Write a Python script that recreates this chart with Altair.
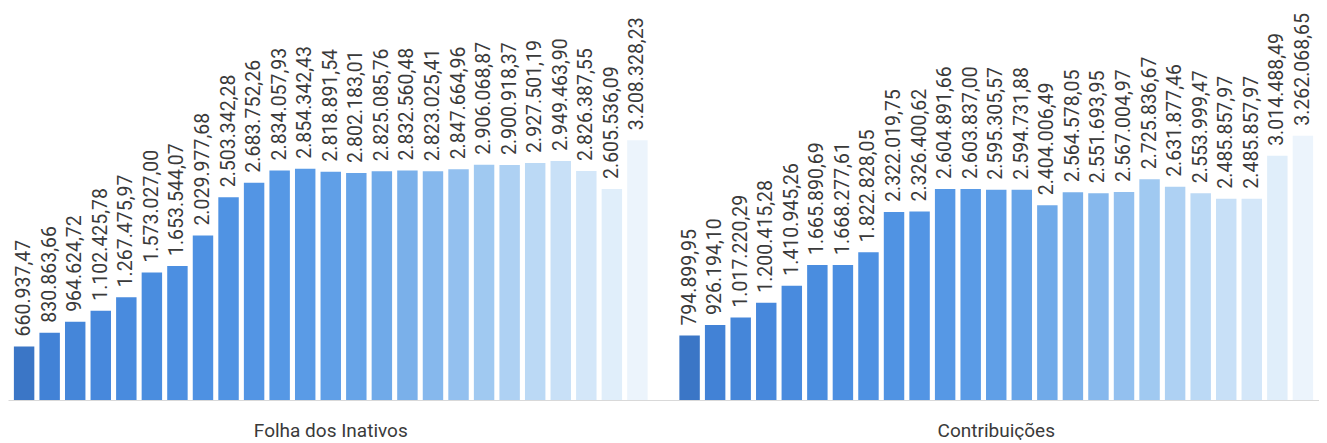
import altair as alt
import pandas as pd

grupos = ["Folha dos Inativos", "Contribuições"]

folha = [660937.47, 830863.66, 964624.72, 1102425.78, 1267475.97, 1573027.00,
         1653544.07, 2029977.68, 2503342.28, 2683752.26, 2834057.93, 2854342.43,
         2818891.54, 2802183.01, 2825085.76, 2832560.48, 2823025.41, 2847664.96,
         2906068.87, 2900918.37, 2927501.19, 2949463.90, 2826387.55, 2605536.09,
         3208328.23]

contrib = [794899.95, 926194.10, 1017220.29, 1200415.28, 1410945.26, 1665890.69,
           1668277.61, 1822828.05, 2322019.75, 2326400.62, 2604891.66, 2603837.00,
           2595305.57, 2594731.88, 2404006.49, 2564578.05, 2551693.95, 2567004.97,
           2725836.67, 2631877.46, 2553999.47, 2485857.97, 2485857.97, 3014488.49,
           3262068.65]

series = [f"S{i+1:02d}" for i in range(25)]

cores = ["#3b76c6", "#4282d6", "#4586d9", "#4788dc", "#498bde", "#4a8ddf",
         "#4c8fe1", "#4e91e2", "#5093e3", "#5395e4", "#5698e5", "#5a9be6",
         "#609fe7", "#67a4e8", "#70aae9", "#7ab0ea", "#86b8ed", "#93c0ef",
         "#a0c9f1", "#aed1f3", "#bbd9f5", "#c8e0f7", "#d4e7f9", "#e0eefa",
         "#ecf4fc"]


def fmt_br(v):
    s = f"{v:,.2f}"
    return s.replace(",", "X").replace(".", ",").replace("X", ".")


rows = []
for g, vals in zip(grupos, [folha, contrib]):
    for s, v in zip(series, vals):
        rows.append({"grupo": g, "serie": s, "valor": v, "rotulo": fmt_br(v)})
df = pd.DataFrame(rows)

FONT = "Roboto"

base = alt.Chart(df).encode(
    x=alt.X("grupo:N", sort=grupos,
            scale=alt.Scale(paddingInner=0.04, paddingOuter=0.005),
            axis=alt.Axis(title=None, labelAngle=0, ticks=False, domain=True,
                          domainColor="#d9d9d9", domainWidth=1,
                          labelFont=FONT, labelFontSize=19, labelColor="#3a3a3a",
                          labelPadding=21)),
    xOffset=alt.XOffset("serie:O", sort=series,
                        scale=alt.Scale(paddingInner=0.2, paddingOuter=0.1)),
    y=alt.Y("valor:Q", scale=alt.Scale(domain=[0, 4840000], nice=False), axis=None),
)

bars = base.mark_bar().encode(
    color=alt.Color("serie:O", sort=series,
                    scale=alt.Scale(domain=series, range=cores), legend=None)
)

labels = base.mark_text(angle=270, align="left", baseline="middle", dx=10,
                        font=FONT, fontSize=19.5, color="#3a3a3a").encode(
    text="rotulo:N"
)

chart = (bars + labels).properties(
    width=1311, height=392, padding=0
).configure_view(stroke=None)

chart.save("out.html", embed_options={"renderer": "svg", "actions": False})
